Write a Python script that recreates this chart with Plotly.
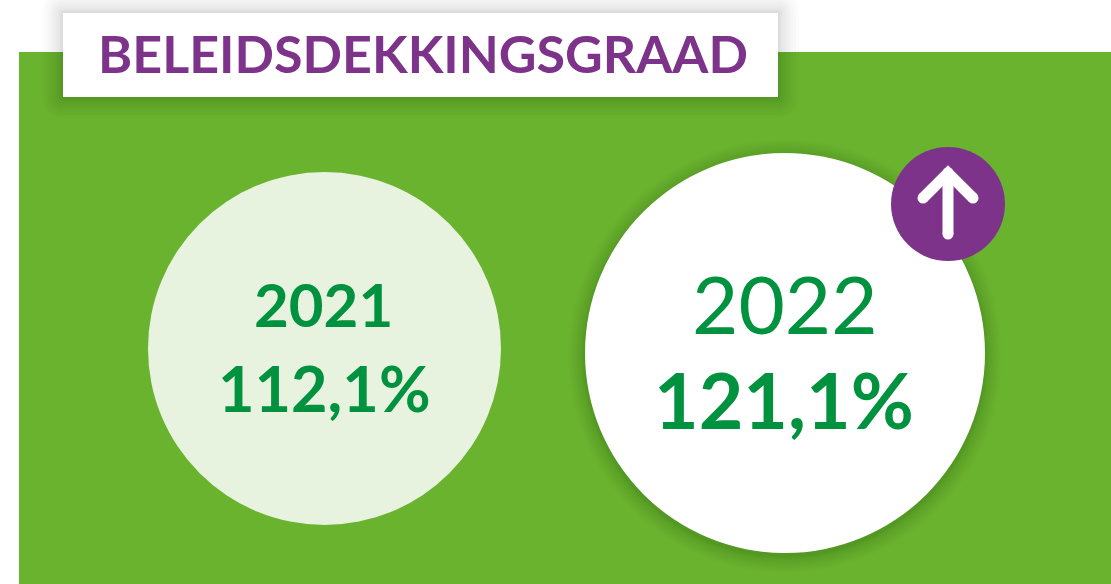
import plotly.graph_objects as go

title = "BELEIDSDEKKINGSGRAAD"
years = ["2021", "2022"]
values = ["112,1%", "121,1%"]
circle_x = [324.5, 785]
circle_y = [348.5, 353]
circle_d = [353, 400]

GREEN = "#6ab32e"
PURPLE = "#7e338a"
TEXT = "#00923f"
PALE = "#e7f2df"
FONT = "Lato, 'Open Sans', sans-serif"
SHADOW_STEPS = [21, 18, 15, 13, 11, 9, 7, 5, 4, 3, 2, 1]


def rrect(x0, y0, x1, y1, r):
    return (f"M{x0+r},{y0} L{x1-r},{y0} Q{x1},{y0} {x1},{y0+r} L{x1},{y1-r} Q{x1},{y1} {x1-r},{y1} "
            f"L{x0+r},{y1} Q{x0},{y1} {x0},{y1-r} L{x0},{y0+r} Q{x0},{y0} {x0+r},{y0} Z")


fig = go.Figure()
shapes = [dict(type="rect", x0=19, x1=1111, y0=52, y1=584, fillcolor=GREEN, line_width=0, layer="below")]
for i in SHADOW_STEPS:
    shapes.append(dict(type="path", path=rrect(63 - i, 13 - i, 778 + i, 97 + i, i),
                       fillcolor="rgba(0,0,0,0.012)", line_width=0, layer="below"))
shapes.append(dict(type="rect", x0=63, x1=778, y0=13, y1=97, fillcolor="white", line_width=0, layer="below"))
fig.update_layout(shapes=shapes)

# soft shadow of the 2022 circle
for i in SHADOW_STEPS:
    fig.add_trace(go.Scatter(x=[circle_x[1]], y=[circle_y[1] + 3], mode="markers",
                             marker=dict(size=circle_d[1] + i * 1.6, color="black", opacity=0.01, line_width=0),
                             hoverinfo="skip", showlegend=False))
fig.add_trace(go.Scatter(x=circle_x, y=circle_y, mode="markers",
                         marker=dict(size=circle_d, color=[PALE, "white"], opacity=1, line_width=0),
                         hoverinfo="skip", showlegend=False))
fig.add_trace(go.Scatter(x=[948], y=[204], mode="markers",
                         marker=dict(size=114, color=PURPLE, opacity=1, line_width=0),
                         hoverinfo="skip", showlegend=False))
fig.add_trace(go.Scatter(x=[948, 948, None, 923, 948, 973], y=[234, 173, None, 198, 173, 198], mode="lines+markers",
                         line=dict(color="white", width=11),
                         marker=dict(color="white", size=11, opacity=1, line_width=0),
                         hoverinfo="skip", showlegend=False))

ann = [
    dict(x=423, y=53, text="<b>%s</b>" % title, font=dict(size=52, color=PURPLE, family=FONT)),
    dict(x=323, y=304, text="<b>%s</b>" % years[0], font=dict(size=60, color=TEXT, family=FONT)),
    dict(x=324, y=387, text="<b>%s</b>" % values[0], font=dict(size=63, color=TEXT, family=FONT)),
    dict(x=785, y=303, text=years[1], font=dict(size=80, color=TEXT, family=FONT)),
    dict(x=784, y=399, text="<b>%s</b>" % values[1], font=dict(size=77, color=TEXT, family=FONT)),
]
for a in ann:
    a.update(xref="x", yref="y", showarrow=False, xanchor="center", yanchor="middle")

fig.update_layout(
    annotations=ann, width=1111, height=584, margin=dict(l=0, r=0, t=0, b=0),
    paper_bgcolor="white", plot_bgcolor="white", showlegend=False,
    xaxis=dict(range=[0, 1111], visible=False, fixedrange=True),
    yaxis=dict(range=[584, 0], visible=False, fixedrange=True),
)
fig.write_html("out.html", config={"displayModeBar": False}, default_width="1111px", default_height="584px",
               post_script="document.body.style.margin='0';document.body.style.overflow='hidden';")
